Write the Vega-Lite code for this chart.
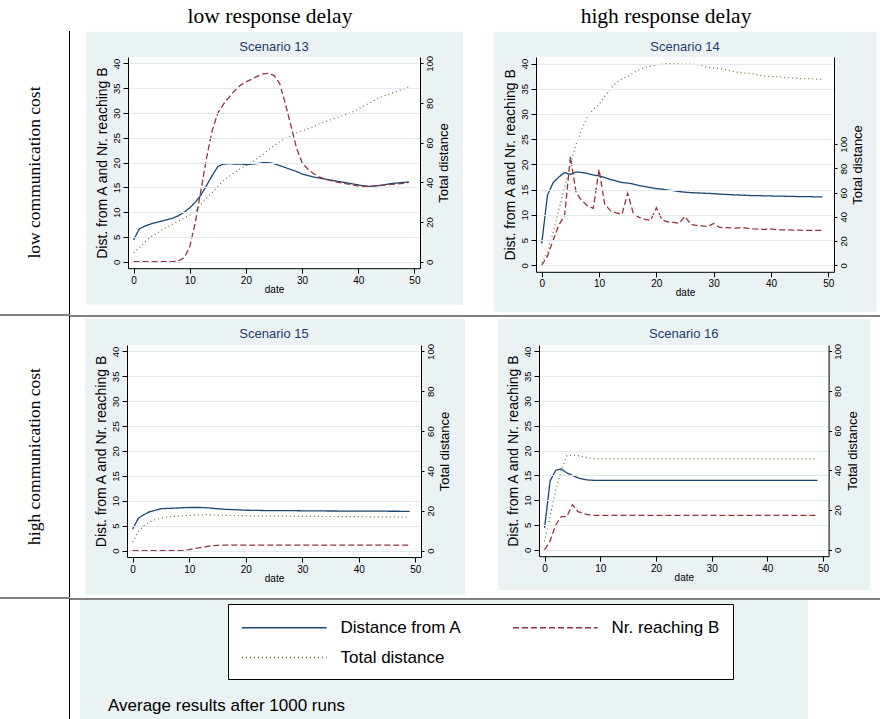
{
"$schema": "https://vega.github.io/schema/vega-lite/v6.json",
"padding": 0,
"background": "white",
"config": {
 "view": {"stroke": null},
 "axis": {"domainColor": "#000000", "tickColor": "#000000", "labelColor": "#000000", "titleColor": "#000000", "labelFont": "Liberation Sans", "titleFont": "Liberation Sans", "titleFontWeight": "normal", "gridColor": "#e1eaed"},
 "title": {"font": "Liberation Sans", "fontWeight": "normal", "fontSize": 13, "color": "#1e3a6e", "anchor": "middle", "frame": "group", "baseline": "alphabetic"},
 "legend": {"columns": 2, "direction": "horizontal", "fillColor": "white", "strokeColor": "black", "padding": 13, "symbolType": "M-1,0H7.9", "symbolSize": 361, "symbolStrokeWidth": 1.5, "labelFont": "Liberation Sans", "labelFontSize": 17, "labelColor": "black", "labelOffset": 78.5, "columnPadding": 48, "rowPadding": 11, "labelLimit": 0}
},
"datasets": {
 "m": [
{"s":13,"d":0,"a":4.4,"b":0,"t":4.5},{"s":13,"d":1,"a":6.6,"b":0,"t":7},{"s":13,"d":2,"a":7.2,"b":0,"t":10},{"s":13,"d":3,"a":7.6,"b":0,"t":12.5},{"s":13,"d":4,"a":7.9,"b":0,"t":14},{"s":13,"d":5,"a":8.2,"b":0,"t":16},{"s":13,"d":6,"a":8.5,"b":0,"t":17.5},{"s":13,"d":7,"a":8.8,"b":0,"t":19},{"s":13,"d":8,"a":9.3,"b":0.2,"t":20.5},{"s":13,"d":9,"a":10.0,"b":0.8,"t":22},
{"s":13,"d":10,"a":10.9,"b":3,"t":23.5},{"s":13,"d":11,"a":12.0,"b":8,"t":25.5},{"s":13,"d":12,"a":13.5,"b":14.5,"t":29},{"s":13,"d":13,"a":15.4,"b":21,"t":32},{"s":13,"d":14,"a":17.4,"b":26.5,"t":35},{"s":13,"d":15,"a":19.2,"b":30,"t":38},{"s":13,"d":16,"a":19.7,"b":31.8,"t":41},{"s":13,"d":17,"a":19.8,"b":33.2,"t":43},{"s":13,"d":18,"a":19.7,"b":34.5,"t":45},{"s":13,"d":19,"a":19.7,"b":35.6,"t":47},
{"s":13,"d":20,"a":19.6,"b":36.3,"t":48.5},{"s":13,"d":21,"a":19.7,"b":36.8,"t":50},{"s":13,"d":22,"a":19.8,"b":37.4,"t":52},{"s":13,"d":23,"a":20.0,"b":37.9,"t":54},{"s":13,"d":24,"a":20.0,"b":38.0,"t":56.5},{"s":13,"d":25,"a":19.8,"b":37.6,"t":58.5},{"s":13,"d":26,"a":19.4,"b":36,"t":60.5},{"s":13,"d":27,"a":19.0,"b":32,"t":62},{"s":13,"d":28,"a":18.6,"b":27.5,"t":63.5},{"s":13,"d":29,"a":18.2,"b":23,"t":65},
{"s":13,"d":30,"a":17.7,"b":20,"t":66},{"s":13,"d":31,"a":17.4,"b":18.7,"t":67},{"s":13,"d":32,"a":17.1,"b":17.8,"t":68},{"s":13,"d":33,"a":16.9,"b":17.1,"t":69.5},{"s":13,"d":34,"a":16.7,"b":16.7,"t":70.5},{"s":13,"d":35,"a":16.5,"b":16.4,"t":71.5},{"s":13,"d":36,"a":16.3,"b":16.1,"t":72.5},{"s":13,"d":37,"a":16.1,"b":15.9,"t":73.5},{"s":13,"d":38,"a":15.9,"b":15.7,"t":74.5},{"s":13,"d":39,"a":15.7,"b":15.5,"t":75.5},
{"s":13,"d":40,"a":15.5,"b":15.3,"t":77},{"s":13,"d":41,"a":15.3,"b":15.2,"t":78.5},{"s":13,"d":42,"a":15.2,"b":15.2,"t":80},{"s":13,"d":43,"a":15.3,"b":15.3,"t":81.5},{"s":13,"d":44,"a":15.4,"b":15.4,"t":83},{"s":13,"d":45,"a":15.6,"b":15.5,"t":84},{"s":13,"d":46,"a":15.8,"b":15.6,"t":85},{"s":13,"d":47,"a":15.9,"b":15.7,"t":86},{"s":13,"d":48,"a":16.0,"b":15.8,"t":87},{"s":13,"d":49,"a":16.1,"b":16.0,"t":88},
{"s":14,"d":0,"a":4.3,"b":0,"t":2},{"s":14,"d":1,"a":13.9,"b":1.8,"t":10.5},{"s":14,"d":2,"a":16.4,"b":5,"t":27},{"s":14,"d":3,"a":17.5,"b":8,"t":46},{"s":14,"d":4,"a":18.4,"b":9.9,"t":64.5},{"s":14,"d":5,"a":18.0,"b":21.5,"t":83},{"s":14,"d":6,"a":18.5,"b":14.4,"t":100},{"s":14,"d":7,"a":18.4,"b":12.8,"t":112.5},{"s":14,"d":8,"a":18.2,"b":11.8,"t":123},{"s":14,"d":9,"a":17.9,"b":11.3,"t":129},
{"s":14,"d":10,"a":17.7,"b":19,"t":133},{"s":14,"d":11,"a":17.4,"b":12.1,"t":139.5},{"s":14,"d":12,"a":17.0,"b":10.8,"t":146},{"s":14,"d":13,"a":16.7,"b":10.4,"t":151},{"s":14,"d":14,"a":16.4,"b":10.1,"t":154},{"s":14,"d":15,"a":16.3,"b":14.3,"t":156},{"s":14,"d":16,"a":16.1,"b":10.2,"t":159},{"s":14,"d":17,"a":15.8,"b":9.5,"t":161.5},{"s":14,"d":18,"a":15.6,"b":9.1,"t":163.5},{"s":14,"d":19,"a":15.4,"b":8.9,"t":164.5},
{"s":14,"d":20,"a":15.2,"b":11.4,"t":165.5},{"s":14,"d":21,"a":15.1,"b":9.0,"t":166.2},{"s":14,"d":22,"a":14.9,"b":8.6,"t":166.7},{"s":14,"d":23,"a":14.8,"b":8.5,"t":166.7},{"s":14,"d":24,"a":14.6,"b":8.3,"t":166.3},{"s":14,"d":25,"a":14.5,"b":9.7,"t":166.3},{"s":14,"d":26,"a":14.4,"b":8.1,"t":166.3},{"s":14,"d":27,"a":14.35,"b":7.9,"t":165.8},{"s":14,"d":28,"a":14.3,"b":7.8,"t":165},{"s":14,"d":29,"a":14.25,"b":7.7,"t":163.3},
{"s":14,"d":30,"a":14.2,"b":8.3,"t":163},{"s":14,"d":31,"a":14.1,"b":7.5,"t":162.5},{"s":14,"d":32,"a":14.05,"b":7.45,"t":161.7},{"s":14,"d":33,"a":14.0,"b":7.4,"t":160.4},{"s":14,"d":34,"a":13.95,"b":7.35,"t":159.6},{"s":14,"d":35,"a":13.9,"b":7.5,"t":159.2},{"s":14,"d":36,"a":13.85,"b":7.3,"t":158.3},{"s":14,"d":37,"a":13.8,"b":7.2,"t":158},{"s":14,"d":38,"a":13.8,"b":7.15,"t":157},{"s":14,"d":39,"a":13.75,"b":7.1,"t":156.3},
{"s":14,"d":40,"a":13.75,"b":7.2,"t":155.8},{"s":14,"d":41,"a":13.7,"b":7.05,"t":155.8},{"s":14,"d":42,"a":13.7,"b":7.0,"t":155.4},{"s":14,"d":43,"a":13.65,"b":7.0,"t":155},{"s":14,"d":44,"a":13.65,"b":6.95,"t":154.6},{"s":14,"d":45,"a":13.6,"b":6.95,"t":154.2},{"s":14,"d":46,"a":13.6,"b":6.9,"t":154.2},{"s":14,"d":47,"a":13.6,"b":6.9,"t":154.2},{"s":14,"d":48,"a":13.55,"b":6.9,"t":153.8},{"s":14,"d":49,"a":13.55,"b":6.9,"t":153.8},
{"s":15,"d":0,"a":4.3,"b":0,"t":4.2},{"s":15,"d":1,"a":6.5,"b":0,"t":9.5},{"s":15,"d":2,"a":7.2,"b":0,"t":12.5},{"s":15,"d":3,"a":7.8,"b":0,"t":14.5},{"s":15,"d":4,"a":8.1,"b":0,"t":15.5},{"s":15,"d":5,"a":8.4,"b":0,"t":16.2},{"s":15,"d":6,"a":8.45,"b":0,"t":16.8},{"s":15,"d":7,"a":8.5,"b":0,"t":17.1},{"s":15,"d":8,"a":8.55,"b":0,"t":17.3},{"s":15,"d":9,"a":8.6,"b":0.05,"t":17.5},
{"s":15,"d":10,"a":8.65,"b":0.2,"t":17.6},{"s":15,"d":11,"a":8.65,"b":0.4,"t":17.8},{"s":15,"d":12,"a":8.65,"b":0.6,"t":17.9},{"s":15,"d":13,"a":8.6,"b":0.8,"t":18},{"s":15,"d":14,"a":8.5,"b":0.95,"t":17.9},{"s":15,"d":15,"a":8.4,"b":1.05,"t":17.8},{"s":15,"d":16,"a":8.3,"b":1.1,"t":17.7},{"s":15,"d":17,"a":8.25,"b":1.1,"t":17.6},{"s":15,"d":18,"a":8.2,"b":1.1,"t":17.6},{"s":15,"d":19,"a":8.15,"b":1.1,"t":17.5},
{"s":15,"d":20,"a":8.1,"b":1.1,"t":17.5},{"s":15,"d":21,"a":8.08,"b":1.1,"t":17.4},{"s":15,"d":22,"a":8.06,"b":1.1,"t":17.4},{"s":15,"d":23,"a":8.04,"b":1.1,"t":17.4},{"s":15,"d":24,"a":8.02,"b":1.1,"t":17.3},{"s":15,"d":25,"a":8.0,"b":1.1,"t":17.3},{"s":15,"d":26,"a":8.0,"b":1.1,"t":17.3},{"s":15,"d":27,"a":8.0,"b":1.1,"t":17.3},{"s":15,"d":28,"a":8.0,"b":1.1,"t":17.2},{"s":15,"d":29,"a":8.0,"b":1.1,"t":17.2},
{"s":15,"d":30,"a":7.98,"b":1.1,"t":17.2},{"s":15,"d":31,"a":7.97,"b":1.1,"t":17.2},{"s":15,"d":32,"a":7.96,"b":1.1,"t":17.2},{"s":15,"d":33,"a":7.95,"b":1.1,"t":17.1},{"s":15,"d":34,"a":7.95,"b":1.1,"t":17.1},{"s":15,"d":35,"a":7.94,"b":1.1,"t":17.1},{"s":15,"d":36,"a":7.94,"b":1.1,"t":17.1},{"s":15,"d":37,"a":7.93,"b":1.1,"t":17.0},{"s":15,"d":38,"a":7.93,"b":1.1,"t":17.0},{"s":15,"d":39,"a":7.92,"b":1.1,"t":17.0},
{"s":15,"d":40,"a":7.92,"b":1.1,"t":17.0},{"s":15,"d":41,"a":7.91,"b":1.09,"t":17.0},{"s":15,"d":42,"a":7.91,"b":1.09,"t":16.9},{"s":15,"d":43,"a":7.9,"b":1.09,"t":16.9},{"s":15,"d":44,"a":7.9,"b":1.09,"t":16.9},{"s":15,"d":45,"a":7.9,"b":1.09,"t":16.9},{"s":15,"d":46,"a":7.89,"b":1.09,"t":16.9},{"s":15,"d":47,"a":7.89,"b":1.09,"t":16.8},{"s":15,"d":48,"a":7.88,"b":1.09,"t":16.8},{"s":15,"d":49,"a":7.88,"b":1.09,"t":16.8},
{"s":16,"d":0,"a":4.4,"b":0,"t":4.2},{"s":16,"d":1,"a":13.9,"b":1.8,"t":17},{"s":16,"d":2,"a":16.0,"b":5,"t":30},{"s":16,"d":3,"a":16.3,"b":6.7,"t":40},{"s":16,"d":4,"a":15.5,"b":6.7,"t":47.5},{"s":16,"d":5,"a":15.0,"b":9.1,"t":47.7},{"s":16,"d":6,"a":14.5,"b":7.7,"t":47.5},{"s":16,"d":7,"a":14.2,"b":7.3,"t":46.8},{"s":16,"d":8,"a":14.05,"b":7.05,"t":46.2},{"s":16,"d":9,"a":14.0,"b":6.95,"t":46},
{"s":16,"d":10,"a":14.0,"b":6.95,"t":45.8},{"s":16,"d":11,"a":14.0,"b":6.95,"t":45.8},{"s":16,"d":12,"a":14.0,"b":6.95,"t":45.8},{"s":16,"d":13,"a":14.0,"b":6.95,"t":45.8},{"s":16,"d":14,"a":14.0,"b":6.95,"t":45.8},{"s":16,"d":15,"a":14.0,"b":6.95,"t":45.8},{"s":16,"d":16,"a":14.0,"b":6.95,"t":45.8},{"s":16,"d":17,"a":14.0,"b":6.95,"t":45.8},{"s":16,"d":18,"a":14.0,"b":6.95,"t":45.8},{"s":16,"d":19,"a":14.0,"b":6.95,"t":45.8},
{"s":16,"d":20,"a":14.0,"b":6.95,"t":45.8},{"s":16,"d":21,"a":14.0,"b":6.95,"t":45.8},{"s":16,"d":22,"a":14.0,"b":6.95,"t":45.8},{"s":16,"d":23,"a":14.0,"b":6.95,"t":45.8},{"s":16,"d":24,"a":14.0,"b":6.95,"t":45.8},{"s":16,"d":25,"a":14.0,"b":6.95,"t":45.8},{"s":16,"d":26,"a":14.0,"b":6.95,"t":45.8},{"s":16,"d":27,"a":14.0,"b":6.95,"t":45.8},{"s":16,"d":28,"a":14.0,"b":6.95,"t":45.8},{"s":16,"d":29,"a":14.0,"b":6.95,"t":45.8},
{"s":16,"d":30,"a":14.0,"b":6.95,"t":45.8},{"s":16,"d":31,"a":14.0,"b":6.95,"t":45.8},{"s":16,"d":32,"a":14.0,"b":6.95,"t":45.8},{"s":16,"d":33,"a":14.0,"b":6.95,"t":45.8},{"s":16,"d":34,"a":14.0,"b":6.95,"t":45.8},{"s":16,"d":35,"a":14.0,"b":6.95,"t":45.8},{"s":16,"d":36,"a":14.0,"b":6.95,"t":45.8},{"s":16,"d":37,"a":14.0,"b":6.95,"t":45.8},{"s":16,"d":38,"a":14.0,"b":6.95,"t":45.8},{"s":16,"d":39,"a":14.0,"b":6.95,"t":45.8},
{"s":16,"d":40,"a":14.0,"b":6.95,"t":45.8},{"s":16,"d":41,"a":14.0,"b":6.95,"t":45.8},{"s":16,"d":42,"a":14.0,"b":6.95,"t":45.8},{"s":16,"d":43,"a":14.0,"b":6.95,"t":45.8},{"s":16,"d":44,"a":14.0,"b":6.95,"t":45.8},{"s":16,"d":45,"a":14.0,"b":6.95,"t":45.8},{"s":16,"d":46,"a":14.0,"b":6.95,"t":45.8},{"s":16,"d":47,"a":14.0,"b":6.95,"t":45.8},{"s":16,"d":48,"a":14.0,"b":6.95,"t":45.8},{"s":16,"d":49,"a":14.0,"b":6.95,"t":45.8}
 ]
},
"spacing": 0,
"hconcat": [
 {"spacing": 0, "vconcat": [
  {"width": 69, "height": 31, "data": {"values": []}, "mark": "rule", "encoding": {}},
  {"spacing": 0, "hconcat": [
   {"width": 69, "height": 283, "data": {"values": [{"t": "low communication cost"}]}, "mark": {"type": "text", "angle": 270, "font": "Liberation Serif", "fontSize": 17.5, "baseline": "middle", "align": "center", "color": "black"}, "encoding": {"text": {"field": "t"}}},
   {"width": 1, "height": 283, "view": {"fill": "#000000", "stroke": null}, "data": {"values": []}, "mark": "rule", "encoding": {}}
  ]},
  {"width": 70, "height": 2, "view": {"fill": "#808080", "stroke": null}, "data": {"values": []}, "mark": "rule", "encoding": {}},
  {"spacing": 0, "hconcat": [
   {"width": 69, "height": 281, "data": {"values": [{"t": "high communication cost"}]}, "mark": {"type": "text", "angle": 270, "font": "Liberation Serif", "fontSize": 17.5, "baseline": "middle", "align": "center", "color": "black"}, "encoding": {"text": {"field": "t"}}},
   {"width": 1, "height": 281, "view": {"fill": "#000000", "stroke": null}, "data": {"values": []}, "mark": "rule", "encoding": {}}
  ]},
  {"width": 70, "height": 2, "view": {"fill": "#808080", "stroke": null}, "data": {"values": []}, "mark": "rule", "encoding": {}},
  {"spacing": 0, "hconcat": [
   {"width": 69, "height": 120, "data": {"values": []}, "mark": "rule", "encoding": {}},
   {"width": 1, "height": 120, "view": {"fill": "#000000", "stroke": null}, "data": {"values": []}, "mark": "rule", "encoding": {}}
  ]}
 ]},
 {"spacing": 0, "vconcat": [
  {"width": 796, "height": 31,
   "data": {"values": [{"c": "low response delay"}, {"c": "high response delay"}]},
   "mark": {"type": "text", "font": "Liberation Serif", "fontSize": 21.5, "baseline": "middle", "color": "black", "dy": 1.5},
   "encoding": {"x": {"field": "c", "type": "nominal", "sort": null, "scale": {"type": "point", "padding": 0.505}, "axis": null}, "text": {"field": "c"}}},
  {"spacing": 14, "hconcat": [
   {"width": 1, "height": 257.8, "data": {"values": []}, "mark": "rule", "encoding": {}},
   {"spacing": 29, "hconcat": [
    {"width": 292, "height": 211.2,
     "title": {"text": "Scenario 13", "offset": -22},
     "layer": [
      {"layer": [
       {"data": {"values": [{}]}, "mark": {"type": "rect", "color": "#eaf2f3"},
        "encoding": {"x": {"datum": -8.48, "type": "quantitative", "scale": {"domain": [-1, 51], "nice": false, "zero": false}, "axis": {"zindex": 1, "title": "date", "values": [0, 10, 20, 30, 40, 50], "tickSize": 5, "labelPadding": 2, "labelFontSize": 10, "titleFontSize": 10, "titlePadding": -1, "labelFlush": false, "labelOverlap": false, "grid": false}}, "x2": {"datum": 58.66},
         "y": {"datum": 46.38, "type": "quantitative", "scale": {"domain": [-1.3, 41.3], "nice": false, "zero": false}, "axis": {"zindex": 1, "title": "Dist. from A and Nr. reaching B", "values": [0, 5, 10, 15, 20, 25, 30, 35, 40], "grid": true, "tickSize": 5, "labelAngle": 270, "labelAlign": "center", "labelBaseline": "bottom", "labelPadding": 2, "labelFontSize": 9.5, "titlePadding": 2, "titleFontSize": 14, "labelOverlap": false}}, "y2": {"datum": -8.68}}},
       {"data": {"values": [{}]}, "mark": {"type": "rect", "color": "#ffffff"},
        "encoding": {"x": {"datum": -1, "type": "quantitative", "axis": {"zindex": 1, "title": "date", "values": [0, 10, 20, 30, 40, 50], "tickSize": 5, "labelPadding": 2, "labelFontSize": 10, "titleFontSize": 10, "titlePadding": -1, "labelFlush": false, "labelOverlap": false, "grid": false}}, "x2": {"datum": 51}, "y": {"datum": 41.3, "type": "quantitative", "axis": {"zindex": 1, "title": "Dist. from A and Nr. reaching B", "values": [0, 5, 10, 15, 20, 25, 30, 35, 40], "grid": true, "tickSize": 5, "labelAngle": 270, "labelAlign": "center", "labelBaseline": "bottom", "labelPadding": 2, "labelFontSize": 9.5, "titlePadding": 2, "titleFontSize": 14, "labelOverlap": false}}, "y2": {"datum": -1.3}}},
       {"data": {"name": "m"}, "transform": [{"filter": "datum.s == 13"}, {"fold": ["a", "b"], "as": ["k", "v"]}],
        "mark": {"type": "line", "strokeWidth": 1.3},
        "encoding": {"x": {"field": "d", "type": "quantitative", "axis": {"zindex": 1, "title": "date", "values": [0, 10, 20, 30, 40, 50], "tickSize": 5, "labelPadding": 2, "labelFontSize": 10, "titleFontSize": 10, "titlePadding": -1, "labelFlush": false, "labelOverlap": false, "grid": false}}, "y": {"field": "v", "type": "quantitative", "axis": {"zindex": 1, "title": "Dist. from A and Nr. reaching B", "values": [0, 5, 10, 15, 20, 25, 30, 35, 40], "grid": true, "tickSize": 5, "labelAngle": 270, "labelAlign": "center", "labelBaseline": "bottom", "labelPadding": 2, "labelFontSize": 9.5, "titlePadding": 2, "titleFontSize": 14, "labelOverlap": false}},
         "color": {"field": "k", "type": "nominal", "scale": {"domain": ["a", "b", "t"], "range": ["#1a476f", "#90353b", "#55752f"]}, "legend": {"title": null, "orient": "none", "legendX": 228, "legendY": 604, "direction": "horizontal", "symbolType": "M-1,0H7.9", "symbolSize": 361, "labelExpr": "datum.label == 'a' ? 'Distance from A' : datum.label == 'b' ? 'Nr. reaching B' : 'Total distance'"}},
         "strokeDash": {"field": "k", "type": "nominal", "scale": {"domain": ["a", "b", "t"], "range": [[1, 0], [6, 3], [1, 3]]}, "legend": {"title": null, "orient": "none", "legendX": 228, "legendY": 604, "direction": "horizontal", "symbolType": "M-1,0H7.9", "symbolSize": 361, "labelExpr": "datum.label == 'a' ? 'Distance from A' : datum.label == 'b' ? 'Nr. reaching B' : 'Total distance'"}}}}
      ]},
      {"data": {"name": "m"}, "transform": [{"filter": "datum.s == 13"}, {"fold": ["t"], "as": ["k", "v"]}],
       "mark": {"type": "line", "strokeWidth": 1.2},
       "encoding": {"x": {"field": "d", "type": "quantitative", "axis": {"zindex": 1, "title": "date", "values": [0, 10, 20, 30, 40, 50], "tickSize": 5, "labelPadding": 2, "labelFontSize": 10, "titleFontSize": 10, "titlePadding": -1, "labelFlush": false, "labelOverlap": false, "grid": false}},
        "y": {"field": "v", "type": "quantitative", "scale": {"domain": [-3.25, 103.25], "nice": false, "zero": false}, "axis": {"zindex": 1, "orient": "right", "title": "Total distance", "values": [0, 20, 40, 60, 80, 100], "grid": false, "tickSize": 3, "labelAngle": 270, "labelAlign": "center", "labelBaseline": "top", "labelPadding": 1, "labelFontSize": 9.5, "titleAngle": 270, "titleBaseline": "top", "titlePadding": 4, "titleFontSize": 13, "labelOverlap": false}},
        "color": {"field": "k", "type": "nominal", "scale": {"domain": ["a", "b", "t"], "range": ["#1a476f", "#90353b", "#55752f"]}}, "strokeDash": {"field": "k", "type": "nominal", "scale": {"domain": ["a", "b", "t"], "range": [[1, 0], [6, 3], [1, 3]]}}}}
     ],
     "resolve": {"scale": {"y": "independent"}}},
    {"width": 298, "height": 214.8,
     "title": {"text": "Scenario 14", "offset": -22},
     "layer": [
      {"layer": [
       {"data": {"values": [{}]}, "mark": {"type": "rect", "color": "#eaf2f3"},
        "encoding": {"x": {"datum": -8.38, "type": "quantitative", "scale": {"domain": [-1, 51], "nice": false, "zero": false}, "axis": {"zindex": 1, "title": "date", "values": [0, 10, 20, 30, 40, 50], "tickSize": 5, "labelPadding": 2, "labelFontSize": 10, "titleFontSize": 10, "titlePadding": -1, "labelFlush": false, "labelOverlap": false, "grid": false}}, "x2": {"datum": 58.45},
         "y": {"datum": 46.3, "type": "quantitative", "scale": {"domain": [-1.3, 41.3], "nice": false, "zero": false}, "axis": {"zindex": 1, "title": "Dist. from A and Nr. reaching B", "values": [0, 5, 10, 15, 20, 25, 30, 35, 40], "grid": true, "tickSize": 5, "labelAngle": 270, "labelAlign": "center", "labelBaseline": "bottom", "labelPadding": 2, "labelFontSize": 9.5, "titlePadding": 2, "titleFontSize": 14, "labelOverlap": false}}, "y2": {"datum": -9.23}}},
       {"data": {"values": [{}]}, "mark": {"type": "rect", "color": "#ffffff"},
        "encoding": {"x": {"datum": -1, "type": "quantitative", "axis": {"zindex": 1, "title": "date", "values": [0, 10, 20, 30, 40, 50], "tickSize": 5, "labelPadding": 2, "labelFontSize": 10, "titleFontSize": 10, "titlePadding": -1, "labelFlush": false, "labelOverlap": false, "grid": false}}, "x2": {"datum": 51}, "y": {"datum": 41.3, "type": "quantitative", "axis": {"zindex": 1, "title": "Dist. from A and Nr. reaching B", "values": [0, 5, 10, 15, 20, 25, 30, 35, 40], "grid": true, "tickSize": 5, "labelAngle": 270, "labelAlign": "center", "labelBaseline": "bottom", "labelPadding": 2, "labelFontSize": 9.5, "titlePadding": 2, "titleFontSize": 14, "labelOverlap": false}}, "y2": {"datum": -1.3}}},
       {"data": {"name": "m"}, "transform": [{"filter": "datum.s == 14"}, {"fold": ["a", "b"], "as": ["k", "v"]}],
        "mark": {"type": "line", "strokeWidth": 1.3},
        "encoding": {"x": {"field": "d", "type": "quantitative", "axis": {"zindex": 1, "title": "date", "values": [0, 10, 20, 30, 40, 50], "tickSize": 5, "labelPadding": 2, "labelFontSize": 10, "titleFontSize": 10, "titlePadding": -1, "labelFlush": false, "labelOverlap": false, "grid": false}}, "y": {"field": "v", "type": "quantitative", "axis": {"zindex": 1, "title": "Dist. from A and Nr. reaching B", "values": [0, 5, 10, 15, 20, 25, 30, 35, 40], "grid": true, "tickSize": 5, "labelAngle": 270, "labelAlign": "center", "labelBaseline": "bottom", "labelPadding": 2, "labelFontSize": 9.5, "titlePadding": 2, "titleFontSize": 14, "labelOverlap": false}},
         "color": {"field": "k", "type": "nominal", "scale": {"domain": ["a", "b", "t"], "range": ["#1a476f", "#90353b", "#55752f"]}}, "strokeDash": {"field": "k", "type": "nominal", "scale": {"domain": ["a", "b", "t"], "range": [[1, 0], [6, 3], [1, 3]]}}}}
      ]},
      {"data": {"name": "m"}, "transform": [{"filter": "datum.s == 14"}, {"fold": ["t"], "as": ["k", "v"]}],
       "mark": {"type": "line", "strokeWidth": 1.2},
       "encoding": {"x": {"field": "d", "type": "quantitative", "axis": {"zindex": 1, "title": "date", "values": [0, 10, 20, 30, 40, 50], "tickSize": 5, "labelPadding": 2, "labelFontSize": 10, "titleFontSize": 10, "titlePadding": -1, "labelFlush": false, "labelOverlap": false, "grid": false}},
        "y": {"field": "v", "type": "quantitative", "scale": {"domain": [-5.417, 172.08], "nice": false, "zero": false}, "axis": {"zindex": 1, "orient": "right", "title": "Total distance", "values": [0, 20, 40, 60, 80, 100], "grid": false, "tickSize": 3, "labelAngle": 270, "labelAlign": "center", "labelBaseline": "top", "labelPadding": 1, "labelFontSize": 9.5, "titleAngle": 270, "titleBaseline": "top", "titlePadding": 4, "titleFontSize": 13, "labelOverlap": false}},
        "color": {"field": "k", "type": "nominal", "scale": {"domain": ["a", "b", "t"], "range": ["#1a476f", "#90353b", "#55752f"]}}, "strokeDash": {"field": "k", "type": "nominal", "scale": {"domain": ["a", "b", "t"], "range": [[1, 0], [6, 3], [1, 3]]}}}}
     ],
     "resolve": {"scale": {"y": "independent"}}}
   ]}
  ]},
  {"width": 810, "height": 2, "view": {"fill": "#808080", "stroke": null}, "data": {"values": []}, "mark": "rule", "encoding": {}},
  {"width": 1, "height": 2, "data": {"values": []}, "mark": "rule", "encoding": {}},
  {"spacing": 13, "hconcat": [
   {"width": 1, "height": 253, "data": {"values": []}, "mark": "rule", "encoding": {}},
   {"spacing": 33, "hconcat": [
    {"width": 294, "height": 212,
     "title": {"text": "Scenario 15", "offset": -22},
     "layer": [
      {"layer": [
       {"data": {"values": [{}]}, "mark": {"type": "rect", "color": "#eaf2f3"},
        "encoding": {"x": {"datum": -8.44, "type": "quantitative", "scale": {"domain": [-1, 51], "nice": false, "zero": false}, "axis": {"zindex": 1, "title": "date", "values": [0, 10, 20, 30, 40, 50], "tickSize": 5, "labelPadding": 2, "labelFontSize": 10, "titleFontSize": 10, "titlePadding": -1, "labelFlush": false, "labelOverlap": false, "grid": false}}, "x2": {"datum": 58.78},
         "y": {"datum": 46.52, "type": "quantitative", "scale": {"domain": [-1.3, 41.3], "nice": false, "zero": false}, "axis": {"zindex": 1, "title": "Dist. from A and Nr. reaching B", "values": [0, 5, 10, 15, 20, 25, 30, 35, 40], "grid": true, "tickSize": 5, "labelAngle": 270, "labelAlign": "center", "labelBaseline": "bottom", "labelPadding": 2, "labelFontSize": 9.5, "titlePadding": 2, "titleFontSize": 14, "labelOverlap": false}}, "y2": {"datum": -8.93}}},
       {"data": {"values": [{}]}, "mark": {"type": "rect", "color": "#ffffff"},
        "encoding": {"x": {"datum": -1, "type": "quantitative", "axis": {"zindex": 1, "title": "date", "values": [0, 10, 20, 30, 40, 50], "tickSize": 5, "labelPadding": 2, "labelFontSize": 10, "titleFontSize": 10, "titlePadding": -1, "labelFlush": false, "labelOverlap": false, "grid": false}}, "x2": {"datum": 51}, "y": {"datum": 41.3, "type": "quantitative", "axis": {"zindex": 1, "title": "Dist. from A and Nr. reaching B", "values": [0, 5, 10, 15, 20, 25, 30, 35, 40], "grid": true, "tickSize": 5, "labelAngle": 270, "labelAlign": "center", "labelBaseline": "bottom", "labelPadding": 2, "labelFontSize": 9.5, "titlePadding": 2, "titleFontSize": 14, "labelOverlap": false}}, "y2": {"datum": -1.3}}},
       {"data": {"name": "m"}, "transform": [{"filter": "datum.s == 15"}, {"fold": ["a", "b"], "as": ["k", "v"]}],
        "mark": {"type": "line", "strokeWidth": 1.3},
        "encoding": {"x": {"field": "d", "type": "quantitative", "axis": {"zindex": 1, "title": "date", "values": [0, 10, 20, 30, 40, 50], "tickSize": 5, "labelPadding": 2, "labelFontSize": 10, "titleFontSize": 10, "titlePadding": -1, "labelFlush": false, "labelOverlap": false, "grid": false}}, "y": {"field": "v", "type": "quantitative", "axis": {"zindex": 1, "title": "Dist. from A and Nr. reaching B", "values": [0, 5, 10, 15, 20, 25, 30, 35, 40], "grid": true, "tickSize": 5, "labelAngle": 270, "labelAlign": "center", "labelBaseline": "bottom", "labelPadding": 2, "labelFontSize": 9.5, "titlePadding": 2, "titleFontSize": 14, "labelOverlap": false}},
         "color": {"field": "k", "type": "nominal", "scale": {"domain": ["a", "b", "t"], "range": ["#1a476f", "#90353b", "#55752f"]}}, "strokeDash": {"field": "k", "type": "nominal", "scale": {"domain": ["a", "b", "t"], "range": [[1, 0], [6, 3], [1, 3]]}}}}
      ]},
      {"data": {"name": "m"}, "transform": [{"filter": "datum.s == 15"}, {"fold": ["t"], "as": ["k", "v"]}],
       "mark": {"type": "line", "strokeWidth": 1.2},
       "encoding": {"x": {"field": "d", "type": "quantitative", "axis": {"zindex": 1, "title": "date", "values": [0, 10, 20, 30, 40, 50], "tickSize": 5, "labelPadding": 2, "labelFontSize": 10, "titleFontSize": 10, "titlePadding": -1, "labelFlush": false, "labelOverlap": false, "grid": false}},
        "y": {"field": "v", "type": "quantitative", "scale": {"domain": [-3.25, 103.25], "nice": false, "zero": false}, "axis": {"zindex": 1, "orient": "right", "title": "Total distance", "values": [0, 20, 40, 60, 80, 100], "grid": false, "tickSize": 3, "labelAngle": 270, "labelAlign": "center", "labelBaseline": "top", "labelPadding": 1, "labelFontSize": 9.5, "titleAngle": 270, "titleBaseline": "top", "titlePadding": 4, "titleFontSize": 13, "labelOverlap": false}},
        "color": {"field": "k", "type": "nominal", "scale": {"domain": ["a", "b", "t"], "range": ["#1a476f", "#90353b", "#55752f"]}}, "strokeDash": {"field": "k", "type": "nominal", "scale": {"domain": ["a", "b", "t"], "range": [[1, 0], [6, 3], [1, 3]]}}}}
     ],
     "resolve": {"scale": {"y": "independent"}}},
    {"width": 289.6, "height": 211.2,
     "title": {"text": "Scenario 16", "offset": -22},
     "layer": [
      {"layer": [
       {"data": {"values": [{}]}, "mark": {"type": "rect", "color": "#eaf2f3"},
        "encoding": {"x": {"datum": -8.31, "type": "quantitative", "scale": {"domain": [-1, 51], "nice": false, "zero": false}, "axis": {"zindex": 1, "title": "date", "values": [0, 10, 20, 30, 40, 50], "tickSize": 5, "labelPadding": 2, "labelFontSize": 10, "titleFontSize": 10, "titlePadding": -1, "labelFlush": false, "labelOverlap": false, "grid": false}}, "x2": {"datum": 58.49},
         "y": {"datum": 46.54, "type": "quantitative", "scale": {"domain": [-1.3, 41.3], "nice": false, "zero": false}, "axis": {"zindex": 1, "title": "Dist. from A and Nr. reaching B", "values": [0, 5, 10, 15, 20, 25, 30, 35, 40], "grid": true, "tickSize": 5, "labelAngle": 270, "labelAlign": "center", "labelBaseline": "bottom", "labelPadding": 2, "labelFontSize": 9.5, "titlePadding": 2, "titleFontSize": 14, "labelOverlap": false}}, "y2": {"datum": -8.12}}},
       {"data": {"values": [{}]}, "mark": {"type": "rect", "color": "#ffffff"},
        "encoding": {"x": {"datum": -1, "type": "quantitative", "axis": {"zindex": 1, "title": "date", "values": [0, 10, 20, 30, 40, 50], "tickSize": 5, "labelPadding": 2, "labelFontSize": 10, "titleFontSize": 10, "titlePadding": -1, "labelFlush": false, "labelOverlap": false, "grid": false}}, "x2": {"datum": 51}, "y": {"datum": 41.3, "type": "quantitative", "axis": {"zindex": 1, "title": "Dist. from A and Nr. reaching B", "values": [0, 5, 10, 15, 20, 25, 30, 35, 40], "grid": true, "tickSize": 5, "labelAngle": 270, "labelAlign": "center", "labelBaseline": "bottom", "labelPadding": 2, "labelFontSize": 9.5, "titlePadding": 2, "titleFontSize": 14, "labelOverlap": false}}, "y2": {"datum": -1.3}}},
       {"data": {"name": "m"}, "transform": [{"filter": "datum.s == 16"}, {"fold": ["a", "b"], "as": ["k", "v"]}],
        "mark": {"type": "line", "strokeWidth": 1.3},
        "encoding": {"x": {"field": "d", "type": "quantitative", "axis": {"zindex": 1, "title": "date", "values": [0, 10, 20, 30, 40, 50], "tickSize": 5, "labelPadding": 2, "labelFontSize": 10, "titleFontSize": 10, "titlePadding": -1, "labelFlush": false, "labelOverlap": false, "grid": false}}, "y": {"field": "v", "type": "quantitative", "axis": {"zindex": 1, "title": "Dist. from A and Nr. reaching B", "values": [0, 5, 10, 15, 20, 25, 30, 35, 40], "grid": true, "tickSize": 5, "labelAngle": 270, "labelAlign": "center", "labelBaseline": "bottom", "labelPadding": 2, "labelFontSize": 9.5, "titlePadding": 2, "titleFontSize": 14, "labelOverlap": false}},
         "color": {"field": "k", "type": "nominal", "scale": {"domain": ["a", "b", "t"], "range": ["#1a476f", "#90353b", "#55752f"]}}, "strokeDash": {"field": "k", "type": "nominal", "scale": {"domain": ["a", "b", "t"], "range": [[1, 0], [6, 3], [1, 3]]}}}}
      ]},
      {"data": {"name": "m"}, "transform": [{"filter": "datum.s == 16"}, {"fold": ["t"], "as": ["k", "v"]}],
       "mark": {"type": "line", "strokeWidth": 1.2},
       "encoding": {"x": {"field": "d", "type": "quantitative", "axis": {"zindex": 1, "title": "date", "values": [0, 10, 20, 30, 40, 50], "tickSize": 5, "labelPadding": 2, "labelFontSize": 10, "titleFontSize": 10, "titlePadding": -1, "labelFlush": false, "labelOverlap": false, "grid": false}},
        "y": {"field": "v", "type": "quantitative", "scale": {"domain": [-3.25, 103.25], "nice": false, "zero": false}, "axis": {"zindex": 1, "orient": "right", "title": "Total distance", "values": [0, 20, 40, 60, 80, 100], "grid": false, "tickSize": 3, "labelAngle": 270, "labelAlign": "center", "labelBaseline": "top", "labelPadding": 1, "labelFontSize": 9.5, "titleAngle": 270, "titleBaseline": "top", "titlePadding": 4, "titleFontSize": 13, "labelOverlap": false}},
        "color": {"field": "k", "type": "nominal", "scale": {"domain": ["a", "b", "t"], "range": ["#1a476f", "#90353b", "#55752f"]}}, "strokeDash": {"field": "k", "type": "nominal", "scale": {"domain": ["a", "b", "t"], "range": [[1, 0], [6, 3], [1, 3]]}}}}
     ],
     "resolve": {"scale": {"y": "independent"}}}
   ]}
  ]},
  {"width": 810, "height": 2, "view": {"fill": "#808080", "stroke": null}, "data": {"values": []}, "mark": "rule", "encoding": {}},
  {"spacing": 9, "hconcat": [
   {"width": 1, "height": 120, "data": {"values": []}, "mark": "rule", "encoding": {}},
   {"width": 728, "height": 120, "view": {"fill": "#eaf2f3", "stroke": null},
    "title": {"text": "Average results after 1000 runs", "orient": "bottom", "anchor": "start", "offset": -22, "dx": 28, "fontSize": 17, "color": "#000000"},
    "data": {"values": []}, "mark": "rule", "encoding": {}}
  ]}
 ]}
]
}
